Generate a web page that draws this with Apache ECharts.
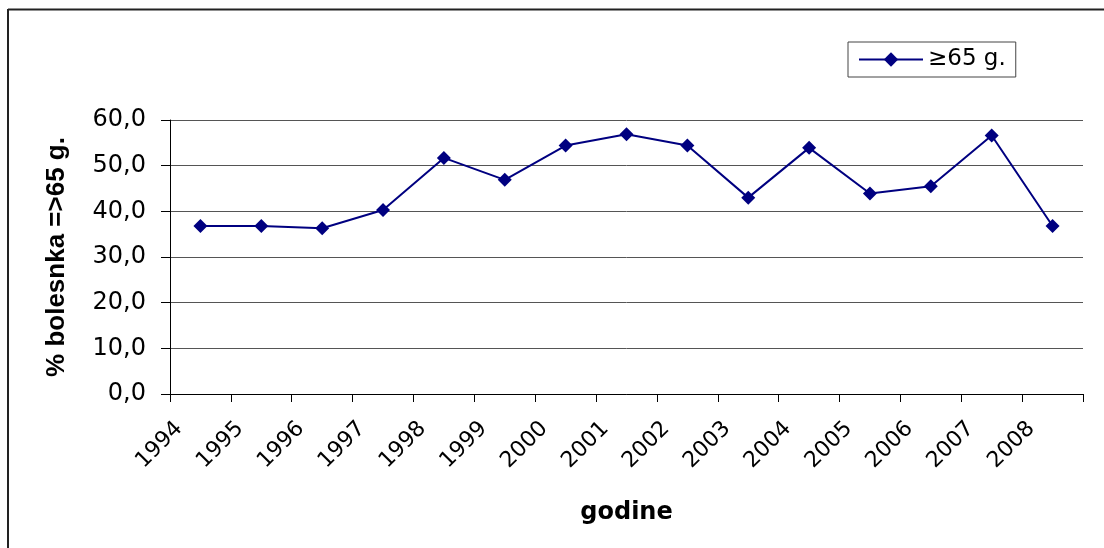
<!DOCTYPE html>
<html><head><meta charset="utf-8">
<script src="https://cdn.jsdelivr.net/npm/echarts@6/dist/echarts.min.js"></script>
<style>html,body{margin:0;padding:0;background:#fff}#c{width:1104px;height:548px}</style>
</head><body><div id="c"></div>
<script>
var categories = ['1994','1995','1996','1997','1998','1999','2000','2001','2002','2003','2004','2005','2006','2007','2008'];
var values = [36.8, 36.8, 36.3, 40.3, 51.7, 46.9, 54.4, 56.9, 54.4, 43.0, 53.9, 43.9, 45.5, 56.6, 36.8];
var seriesName = '≥65 g.';
var yTicks = [0, 10, 20, 30, 40, 50, 60];

var chart = echarts.init(document.getElementById('c'));
var FW = '"DejaVu Sans", sans-serif';
var FA = '"Liberation Sans", Arial, sans-serif';
chart.setOption({
  animation: false,
  backgroundColor: '#fff',
  graphic: [
    {type:'line', shape:{x1:8, y1:9.5, x2:1104, y2:9.5}, style:{stroke:'#222', lineWidth:2}, z:-1},
    {type:'line', shape:{x1:8, y1:9, x2:8, y2:548}, style:{stroke:'#222', lineWidth:2}, z:-1}
  ],
  grid: {left:170, right:21, top:120, bottom:154, containLabel:false},
  legend: {
    left: 848, top: 42, orient:'horizontal',
    backgroundColor:'#fff', borderColor:'#444', borderWidth:1,
    padding:[6,10,6,10], itemWidth:64, itemHeight:18, itemGap:6,
    textStyle:{fontFamily:FW, fontSize:23, color:'#000'},
    data:[{name:seriesName}]
  },
  xAxis: {
    type:'category', data:categories, boundaryGap:true,
    name:'godine', nameLocation:'middle', nameGap:107,
    nameTextStyle:{fontFamily:FW, fontSize:24, fontWeight:'bold', color:'#000'},
    axisLine:{lineStyle:{color:'#000', width:1}},
    axisTick:{show:true, length:8, lineStyle:{color:'#000'}},
    axisLabel:{rotate:45, margin:10, padding:[0,30,0,0], fontFamily:FW, fontSize:22, color:'#000', interval:0}
  },
  yAxis: {
    type:'value', min:0, max:60, interval:10,
    name:'% bolesnka =>65 g.', nameLocation:'middle', nameGap:100,
    nameTextStyle:{fontFamily:FA, fontSize:26, fontWeight:'bold', color:'#000'},
    axisLine:{show:true, lineStyle:{color:'#000', width:1}},
    axisTick:{show:true, length:9, lineStyle:{color:'#000'}},
    axisLabel:{margin:24, fontFamily:FW, fontSize:24, color:'#000', formatter:function(v){return v.toFixed(1).replace('.',',');}},
    splitLine:{show:true, lineStyle:{color:'#555', width:1}}
  },
  series: [{
    name:seriesName, type:'line', data:values,
    symbol:'diamond', symbolSize:14,
    lineStyle:{color:'#000080', width:2},
    itemStyle:{color:'#000080'}
  }]
});
</script></body></html>
